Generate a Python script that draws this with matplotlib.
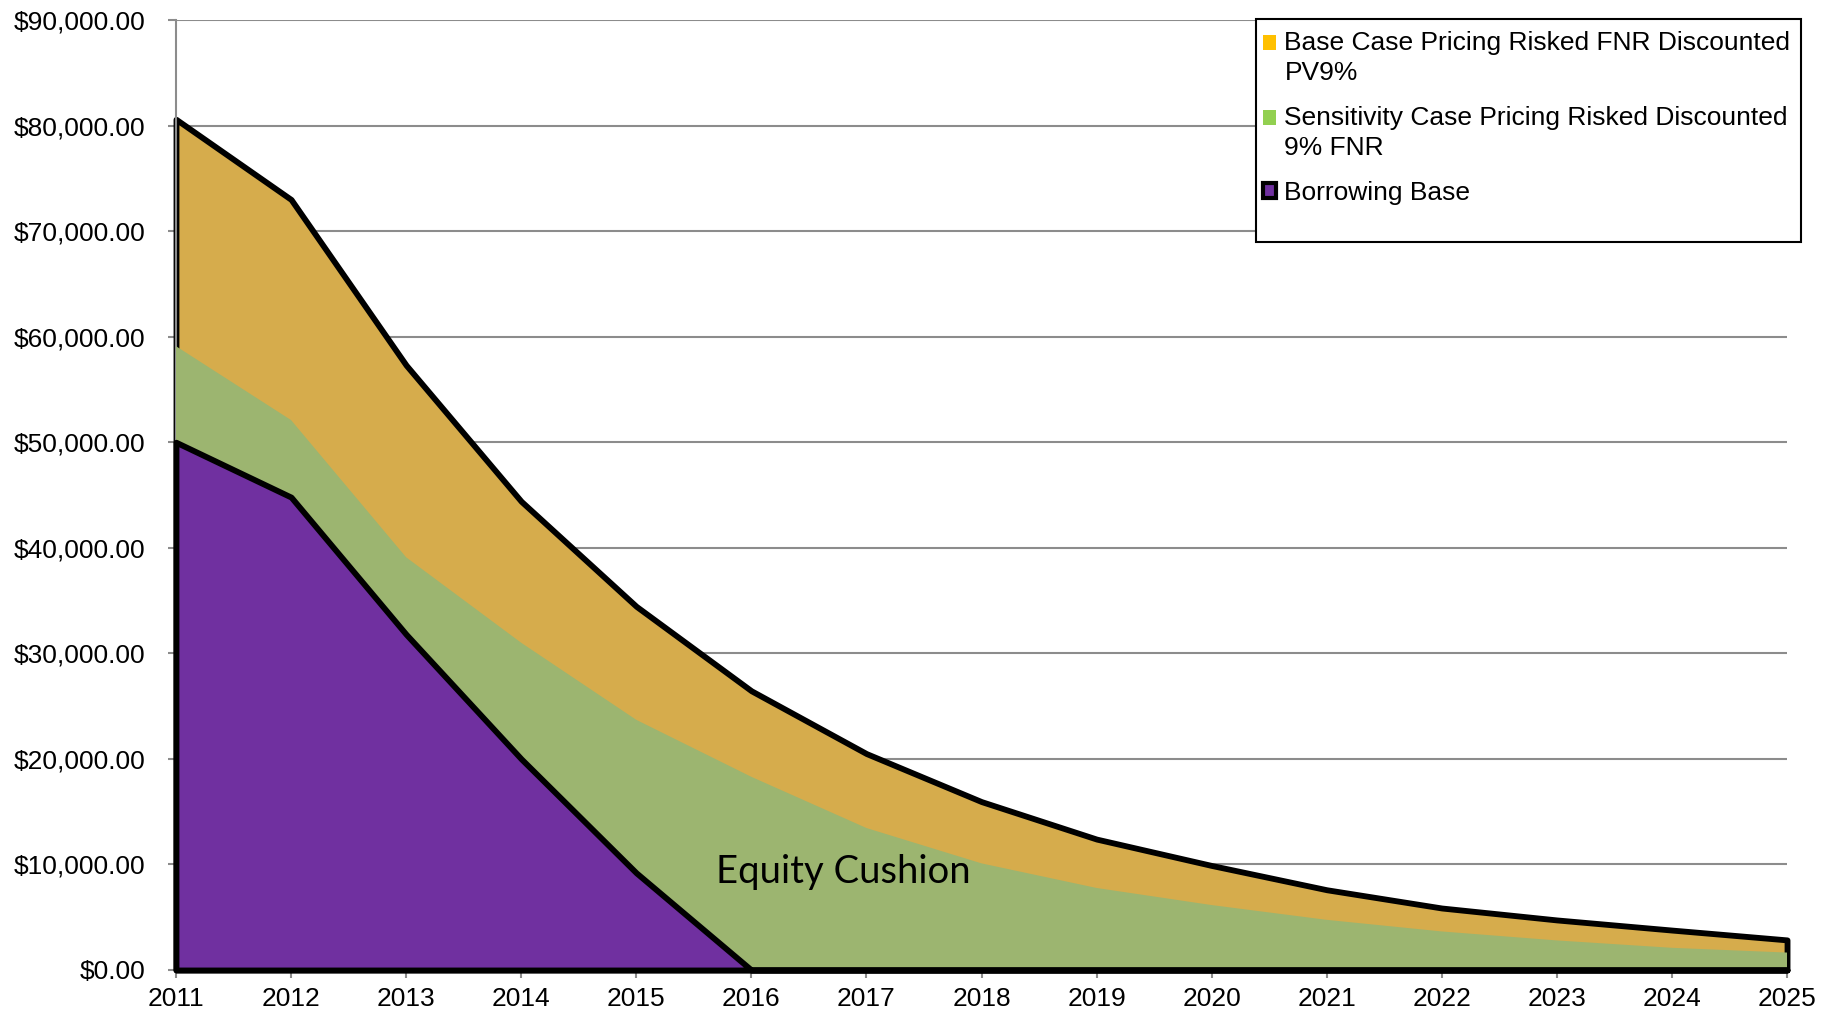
import numpy as np
import matplotlib
matplotlib.use("Agg")
import matplotlib.pyplot as plt
from matplotlib.patches import Patch, Rectangle
from matplotlib.legend_handler import HandlerPatch
from matplotlib.ticker import FuncFormatter

# data
years = list(range(2011, 2026))
base_case = [80600, 73000, 57300, 44400, 34450, 26450, 20500, 15950, 12400,
             9900, 7600, 5870, 4740, 3780, 2850]
sensitivity = [59100, 52100, 39100, 31000, 23700, 18300, 13450, 10100, 7770,
               6150, 4750, 3650, 2800, 2100, 1650]
borrowing = [50000, 44800, 31800, 20000, 9200, 0, 0, 0, 0, 0, 0, 0, 0, 0, 0]

labels = ["Base Case Pricing Risked FNR Discounted\nPV9%",
          "Sensitivity Case Pricing Risked Discounted\n9% FNR",
          "Borrowing Base"]

gold = "#D6AC4C"
green = "#9CB570"
purple = "#7030A0"
grid_c = "#8C8C8C"

plt.rcParams["font.family"] = ["Liberation Sans", "DejaVu Sans"]

fig = plt.figure(figsize=(18.37, 10.16), dpi=100)
ax = fig.add_axes([0.0958, 0.0453, 0.8770, 0.9350])

x = np.array(years)
p1 = ax.fill_between(x, 0, base_case, facecolor=gold, edgecolor="black",
                     linewidth=4.2, zorder=2)
ax.fill_between(x, 0, sensitivity, facecolor=green, edgecolor="none",
                linewidth=0, zorder=3)
p3 = ax.fill_between(x, 0, borrowing, facecolor=purple, edgecolor="black",
                     linewidth=4.2, zorder=4)
p1.set_clip_on(False)
p3.set_clip_on(False)

ax.set_xlim(2011, 2025)
ax.set_ylim(0, 90000)
ax.set_xticks(years)
ax.set_yticks(np.arange(0, 90001, 10000))
ax.yaxis.set_major_formatter(FuncFormatter(lambda v, p: f"${v:,.2f}"))
ax.yaxis.grid(True, color=grid_c, linewidth=1.5, zorder=0)
ax.set_axisbelow(True)

for s in ["top", "right"]:
    ax.spines[s].set_visible(False)
for s in ["left", "bottom"]:
    ax.spines[s].set_color(grid_c)
    ax.spines[s].set_linewidth(1.5)
ax.tick_params(axis="both", colors=grid_c, labelcolor="black", labelsize=19,
               length=6, width=1.5, direction="out")
ax.tick_params(axis="x", pad=6)
ax.tick_params(axis="y", pad=16)

ax.text(2016.8, 9300, "Equity Cushion", fontsize=27.5, family=["Lato", "DejaVu Sans"],
        ha="center", va="center", zorder=6)

# legend frame drawn by hand so it keeps the empty space at the bottom
fig.patches.append(Rectangle((1256 / 1837, 1 - 242 / 1016), 545 / 1837, 223 / 1016,
                             transform=fig.transFigure, facecolor="white",
                             edgecolor="black", linewidth=1.5, zorder=5))


# two-line entries: put the swatch next to the first line
def top_swatch(legend, orig_handle, xdescent, ydescent, width, height, fontsize):
    return Rectangle((-xdescent, -ydescent + 0.6 * fontsize), width, height)


handles = [Patch(facecolor="#FFC000", edgecolor="none"),
           Patch(facecolor="#92D050", edgecolor="none"),
           Patch(facecolor=purple, edgecolor="black", linewidth=3)]
hmap = {handles[0]: HandlerPatch(patch_func=top_swatch),
        handles[1]: HandlerPatch(patch_func=top_swatch)}
leg = fig.legend(handles, labels, loc="upper left",
                 bbox_to_anchor=(1258 / 1837, 1 - 26 / 1016),
                 fontsize=19, frameon=False, handler_map=hmap,
                 handlelength=0.5, handleheight=0.5,
                 handletextpad=0.3, labelspacing=0.8, borderpad=0.2,
                 borderaxespad=0)
leg.set_zorder(6)
for t in leg.get_texts():
    t.set_linespacing(1.3)

fig.savefig("out.png", dpi=100)
